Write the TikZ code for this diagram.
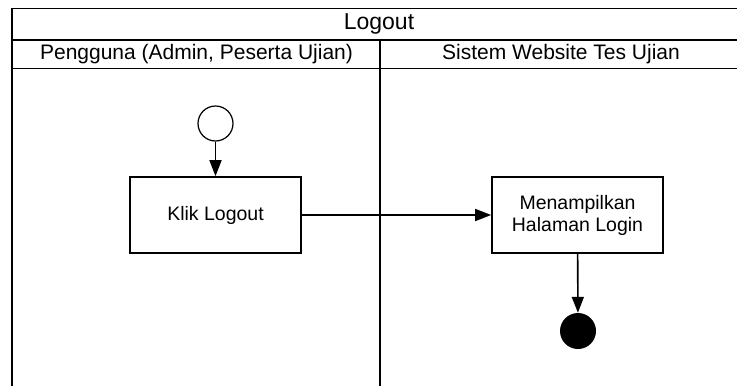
\documentclass[tikz,border=0pt]{standalone}
\usepackage{fontspec}
\setmainfont{Liberation Sans}
\usetikzlibrary{arrows.meta}
\begin{document}
\begin{tikzpicture}[x=1pt,y=-1pt,
  lane/.style={line width=1.6pt},
  heading/.style={inner sep=0pt, font=\fontsize{21}{25}\selectfont},
  action/.style={draw, line width=1.6pt, minimum width=171pt, minimum height=76pt,
    align=center, inner sep=0pt, font=\fontsize{19.5}{22}\selectfont},
  startstate/.style={draw, circle, line width=1.2pt, minimum size=35pt, inner sep=0pt},
  endstate/.style={fill=black, circle, minimum size=36pt, inner sep=0pt},
  flow/.style={line width=1.6pt, -{Triangle[length=16pt,width=12pt]}}
]
\useasboundingbox (0,0) rectangle (737,386);

% swimlane frame
\draw[lane] (12,386) -- (12,8.5) -- (745,8.5);
\draw[lane] (12,40) -- (745,40);
\draw[lane] (12,68.5) -- (745,68.5);
\draw[lane] (380,40) -- (380,386);

% titles
\node[heading, font=\fontsize{23}{27}\selectfont] (title) at (379,24) {Logout};
\node[heading] (laneA) at (196.5,54.5) {Pengguna (Admin, Peserta Ujian)};
\node[heading] (laneB) at (561,54.5) {Sistem Website Tes Ujian};

% activity nodes
\node[startstate] (start) at (215.5,123.5) {};
\node[action] (klik) at (215.5,215) {Klik Logout};
\node[action] (tampil) at (577.5,215) {Menampilkan\\Halaman Login};
\node[endstate] (stop) at (578,331) {};

% transitions
\draw[flow] (start) -- (klik);
\draw[flow] (klik) -- (tampil);
\draw[flow] (tampil) -- (stop);
\end{tikzpicture}
\end{document}
